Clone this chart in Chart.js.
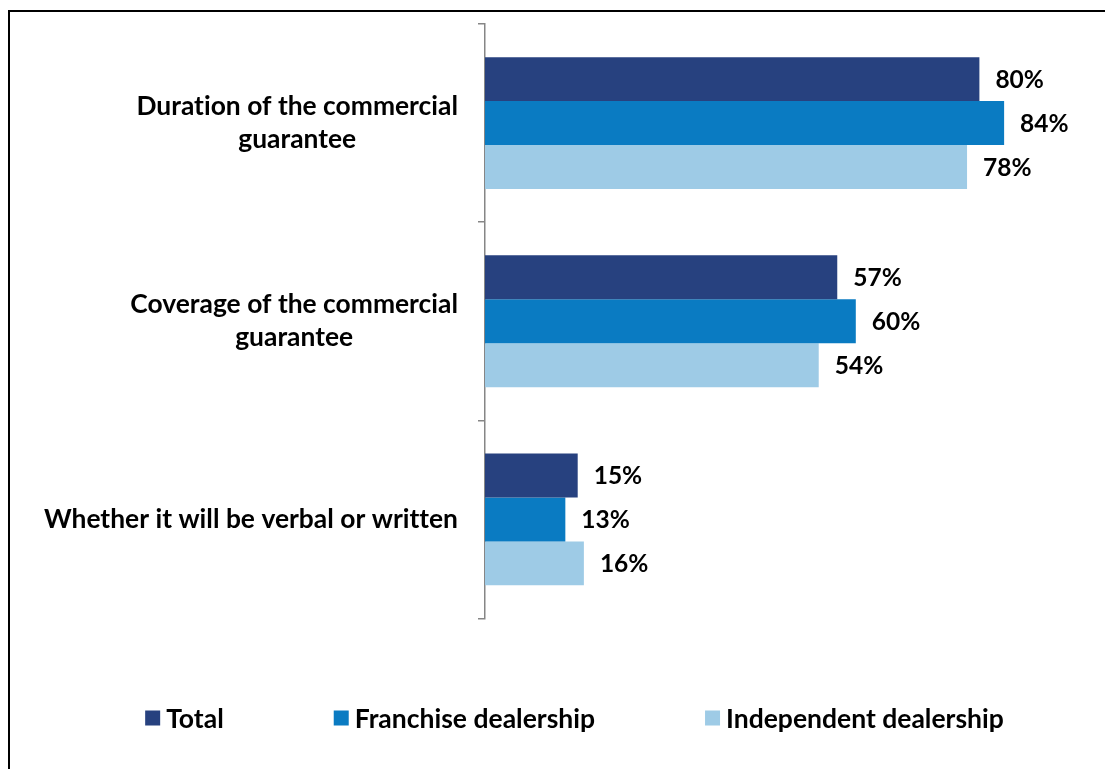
<!DOCTYPE html>
<html>
<head>
<meta charset="utf-8">
<script src="https://cdn.jsdelivr.net/npm/chart.js@4.4.0/dist/chart.umd.min.js"></script>
<style>
    html, body { margin: 0; padding: 0; background: #ffffff; overflow: hidden; }
    .frame {
        position: absolute;
        left: 8px;
        top: 10px;
        width: 1129px;
        height: 800px;
        border: 2px solid #000000;
    }
    canvas { display: block; }
</style>
</head>
<body>
<div class="frame">
    <canvas id="guaranteeChart" width="1129" height="757"></canvas>
</div>
<script>
const categories = [
    ["Duration of the commercial", "guarantee"],
    ["Coverage of the commercial", "guarantee"],
    ["Whether it will be verbal or written"]
];
const seriesNames = ["Total", "Franchise dealership", "Independent dealership"];
const totalValues = [80, 57, 15];
const franchiseValues = [84, 60, 13];
const independentValues = [78, 54, 16];
const seriesColors = ["#27417f", "#0a7bc2", "#9ecbe6"];

const FONT = "Lato";

// category names: block right-aligned against the axis, lines centred inside the block
const categoryLabels = {
    id: "categoryLabels",
    afterDraw(chart) {
        const ctx = chart.ctx;
        const yAxis = chart.scales.y;
        const right = yAxis.left - 20;
        const lineHeight = 33;
        ctx.save();
        ctx.font = "bold 26.4px " + FONT;
        ctx.letterSpacing = "0.01px"; // keeps "ti" from turning into a ligature
        ctx.fillStyle = "#000000";
        ctx.textAlign = "center";
        ctx.textBaseline = "middle";
        chart.data.labels.forEach((lines, i) => {
            const blockWidth = Math.max(...lines.map(line => ctx.measureText(line).width));
            const cx = right - blockWidth / 2;
            const cy = yAxis.getPixelForTick(i);
            lines.forEach((line, j) => {
                ctx.fillText(line, cx, cy + (j - (lines.length - 1) / 2) * lineHeight);
            });
        });
        ctx.restore();
    }
};

// percentage at the end of each bar
const valueLabels = {
    id: "valueLabels",
    afterDatasetsDraw(chart) {
        const ctx = chart.ctx;
        ctx.save();
        ctx.font = "bold 24.5px " + FONT;
        ctx.fillStyle = "#000000";
        ctx.textAlign = "left";
        ctx.textBaseline = "middle";
        chart.data.datasets.forEach((dataset, d) => {
            chart.getDatasetMeta(d).data.forEach((bar, i) => {
                ctx.fillText(dataset.data[i] + "%", bar.x + 16, bar.y + 1);
            });
        });
        ctx.restore();
    }
};

// legend row with wide gaps between the entries
const wideLegend = {
    id: "wideLegend",
    afterDraw(chart) {
        const ctx = chart.ctx;
        const box = 15;
        const textGap = 6;
        const itemGap = 110;
        const y = 706;
        ctx.save();
        ctx.font = "bold 26.5px " + FONT;
        ctx.textBaseline = "middle";
        ctx.textAlign = "left";
        const widths = chart.data.datasets.map(ds => box + textGap + ctx.measureText(ds.label).width);
        const total = widths.reduce((a, b) => a + b, 0) + itemGap * (widths.length - 1);
        let x = chart.width / 2 - total / 2;
        chart.data.datasets.forEach((ds, i) => {
            ctx.fillStyle = ds.backgroundColor;
            ctx.fillRect(x, y - box / 2, box, box);
            ctx.fillStyle = "#000000";
            ctx.fillText(ds.label, x + box + textGap, y + 1);
            x += widths[i] + itemGap;
        });
        ctx.restore();
    }
};

const seriesValues = [totalValues, franchiseValues, independentValues];

const ctx = document.getElementById("guaranteeChart");

const guaranteeChart = new Chart(ctx, {
    type: "bar",

    data: {
        labels: categories,
        datasets: seriesNames.map((name, i) => ({
            label: name,
            data: seriesValues[i],
            backgroundColor: seriesColors[i],
            borderWidth: 0,
            barPercentage: 1,
            categoryPercentage: 0.665
        }))
    },

    options: {
        indexAxis: "y",
        responsive: false,
        animation: false,
        layout: {
            padding: { left: 468, top: 12, right: 36, bottom: 150.5 }
        },
        plugins: {
            legend: { display: false },
            tooltip: { enabled: false }
        },
        scales: {
            x: {
                display: false,
                min: 0,
                max: 100
            },
            y: {
                ticks: { display: false },
                grid: {
                    offset: true,
                    drawOnChartArea: false,
                    drawTicks: true,
                    tickLength: 7,
                    color: "#868686",
                    lineWidth: 1.5
                },
                border: {
                    color: "#868686",
                    width: 1.5
                }
            }
        }
    },

    plugins: [categoryLabels, valueLabels, wideLegend]
});
</script>
</body>
</html>
